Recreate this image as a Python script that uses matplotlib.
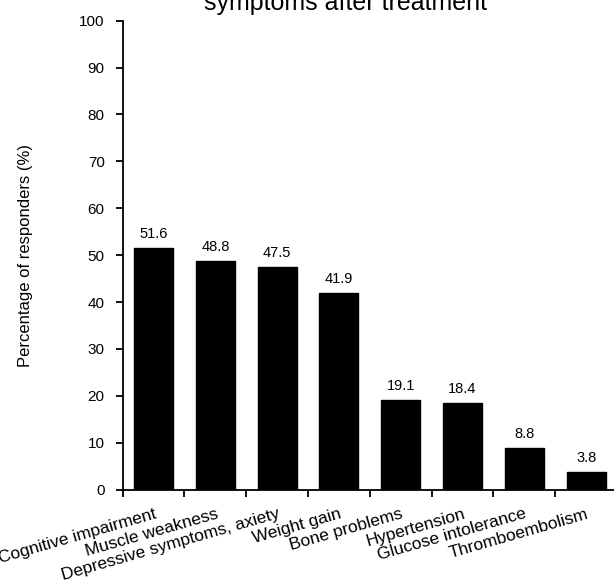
import numpy as np
import matplotlib.pyplot as plt

plt.rcParams['font.family'] = ['Liberation Sans', 'DejaVu Sans']

# data
categories = ['Cognitive impairment', 'Muscle weakness', 'Depressive symptoms, axiety',
              'Weight gain', 'Bone problems', 'Hypertension', 'Glucose intolerance',
              'Thromboembolism']
percent = [51.6, 48.8, 47.5, 41.9, 19.1, 18.4, 8.8, 3.8]
y_ticks = [0, 10, 20, 30, 40, 50, 60, 70, 80, 90, 100]

W, H = 614, 581
fig = plt.figure(figsize=(W / 100, H / 100), dpi=100)
# axes box in pixels: left 122.7, right 617, bottom 489.6, top 20.7
ax = fig.add_axes([122.7 / W, (H - 489.6) / H, (617 - 122.7) / W, (489.6 - 20.7) / H])

x = np.arange(len(categories))
ax.bar(x, percent, width=0.63, color='black', edgecolor='black')

for xi, v in zip(x, percent):
    ax.annotate(f'{v:.1f}', (xi, v), xytext=(0, 5), textcoords='offset points',
                ha='center', va='bottom', fontsize=10.5)

ax.set_xlim(-0.5, len(categories) - 0.5)
ax.set_ylim(0, 100)
ax.set_yticks(y_ticks)
ax.tick_params(axis='y', labelsize=11, length=5, width=1.3, direction='out', pad=8)

# category labels on major ticks (hidden), tick marks on the boundaries
ax.set_xticks(x)
ax.set_xticklabels(categories, rotation=16, ha='right', va='top',
                   rotation_mode='anchor', fontsize=12.5)
ax.tick_params(axis='x', which='major', length=0, pad=12)
ax.set_xticks(np.arange(-0.5, len(categories)), minor=True)
ax.tick_params(axis='x', which='minor', length=5, width=1.3, direction='out')

for s in ['top', 'right']:
    ax.spines[s].set_visible(False)
for s in ['left', 'bottom']:
    ax.spines[s].set_linewidth(1.3)

ax.set_ylabel('Percentage of responders (%)', fontsize=12)
ax.yaxis.set_label_coords(-0.181, 0.5)

fig.text(346 / W, 1 - 10 / H, 'symptoms after treatment', ha='center',
         va='baseline', fontsize=18)

fig.savefig('out.png', dpi=100)
